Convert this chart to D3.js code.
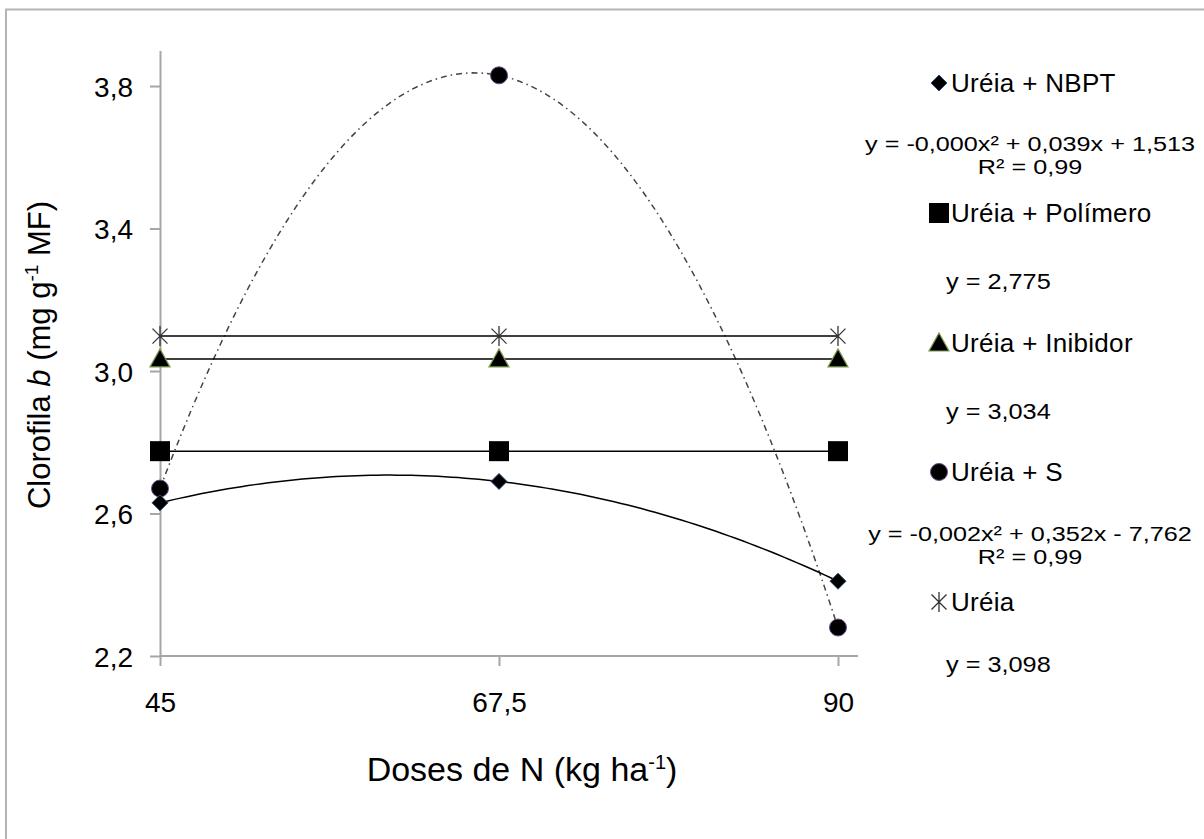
<!DOCTYPE html>
<html><head><meta charset="utf-8">
<script src="https://cdn.jsdelivr.net/npm/d3@7"></script>
<style>body{margin:0;background:#fff;} text{font-family:"Liberation Sans",Arial,sans-serif;}</style>
</head><body>
<svg id="c" width="1204" height="839"></svg>
<script>
const doses = [45, 67.5, 90];
const xTickLabels = ["45", "67,5", "90"];
const yTicks = [2.2, 2.6, 3.0, 3.4, 3.8];
const yTickLabels = ["2,2", "2,6", "3,0", "3,4", "3,8"];
const nbpt = [2.63, 2.69, 2.41];
const polimero = [2.775, 2.775, 2.775];
const inibidor = [3.034, 3.034, 3.034];
const ureiaS = [2.67, 3.83, 2.28];
const ureia = [3.098, 3.098, 3.098];

const svg = d3.select("#c");
const x = d3.scaleLinear().domain([45, 90]).range([160, 838]);
const y = d3.scaleLinear().domain([2.2, 3.9]).range([656, 50.4]);

// outer frame (left + top)
svg.append("path").attr("d", "M6,839 V9.5 H1204").attr("fill", "none").attr("stroke", "#b4b4b4").attr("stroke-width", 2);

// axes
const yAx = svg.append("g").attr("transform", "translate(160,0)")
  .call(d3.axisLeft(y).tickValues(yTicks).tickFormat((d, i) => yTickLabels[i]).tickSize(10).tickPadding(17).tickSizeOuter(0));
const xAx = svg.append("g").attr("transform", "translate(0,656)")
  .call(d3.axisBottom(x).tickValues(doses).tickFormat((d, i) => xTickLabels[i]).tickSize(10).tickPadding(26).tickSizeOuter(0));
[yAx, xAx].forEach(g => {
  g.select(".domain").attr("stroke", "#a6a6a6").attr("stroke-width", 2);
  g.selectAll(".tick line").attr("stroke", "#a6a6a6").attr("stroke-width", 2);
  g.selectAll(".tick text").attr("fill", "#000").style("font-size", "28px").style("font-family", "Liberation Sans, Arial, sans-serif");
});
xAx.select(".domain").attr("d", `M${x(45)},0H${x(90)+20}`);
yAx.selectAll(".tick text").attr("dy", "0.36em");

// quadratic trendline through the three points
function quad(xs, ys) {
  return t => {
    let s = 0;
    for (let i = 0; i < 3; i++) {
      let l = ys[i];
      for (let j = 0; j < 3; j++) if (j !== i) l *= (t - xs[j]) / (xs[i] - xs[j]);
      s += l;
    }
    return s;
  };
}
const samples = d3.range(0, 101).map(i => 45 + i * 0.45);
const line = d3.line().x(d => x(d[0])).y(d => y(d[1]));

const fS = quad(doses, ureiaS);
svg.append("path").attr("d", line(samples.map(t => [t, fS(t)])))
  .attr("fill", "none").attr("stroke", "#444").attr("stroke-width", 1.5).attr("stroke-dasharray", "6,4,1.5,4");
const fN = quad(doses, nbpt);
svg.append("path").attr("d", line(samples.map(t => [t, fN(t)])))
  .attr("fill", "none").attr("stroke", "#000").attr("stroke-width", 1.5);
[polimero, inibidor, ureia].forEach(s => {
  svg.append("path").attr("d", line(doses.map((d, i) => [d, s[i]])))
    .attr("fill", "none").attr("stroke", "#000").attr("stroke-width", 1.5);
});

// markers
function marker(g, type, cx, cy) {
  if (type === "diamond") g.append("path").attr("d", `M${cx},${cy-8}L${cx+8},${cy}L${cx},${cy+8}L${cx-8},${cy}Z`).attr("fill", "#000").attr("stroke", "#2a4a7a").attr("stroke-width", 1);
  if (type === "square") g.append("rect").attr("x", cx - 10).attr("y", cy - 10).attr("width", 20).attr("height", 20).attr("fill", "#000");
  if (type === "triangle") g.append("path").attr("d", `M${cx},${cy-10}L${cx+10},${cy+8}L${cx-10},${cy+8}Z`).attr("fill", "#000").attr("stroke", "#7a9a4a").attr("stroke-width", 1.2);
  if (type === "circle") g.append("circle").attr("cx", cx).attr("cy", cy).attr("r", 8.5).attr("fill", "#000").attr("stroke", "#6a4a8a").attr("stroke-width", 1);
  if (type === "star") {
    const r = 10;
    g.append("path").attr("d", `M${cx-r*0.75},${cy-r*0.75}L${cx+r*0.75},${cy+r*0.75}M${cx+r*0.75},${cy-r*0.75}L${cx-r*0.75},${cy+r*0.75}M${cx},${cy-r}V${cy+r}`)
      .attr("stroke", "#333").attr("stroke-width", 1.3).attr("fill", "none");
  }
}
const series = [
  {vals: ureia, m: "star"},
  {vals: inibidor, m: "triangle"},
  {vals: polimero, m: "square"},
  {vals: ureiaS, m: "circle"},
  {vals: nbpt, m: "diamond"}
];
const mg = svg.append("g");
series.forEach(s => doses.forEach((d, i) => marker(mg, s.m, x(d), y(s.vals[i]))));

// legend
const leg = svg.append("g");
const legItems = [
  {m: "diamond", label: "Uréia + NBPT", ly: 83, eq: ["y = -0,000x² + 0,039x + 1,513", "R² = 0,99"], ey: 151},
  {m: "square", label: "Uréia + Polímero", ly: 213, eq: ["y = 2,775"], ey: 289},
  {m: "triangle", label: "Uréia + Inibidor", ly: 343, eq: ["y = 3,034"], ey: 419},
  {m: "circle", label: "Uréia + S", ly: 472, eq: ["y = -0,002x² + 0,352x - 7,762", "R² = 0,99"], ey: 541},
  {m: "star", label: "Uréia", ly: 602, eq: ["y = 3,098"], ey: 672}
];
legItems.forEach(it => {
  marker(leg, it.m, 939, it.ly);
  leg.append("text").attr("x", 951).attr("y", it.ly + 9).style("font-size", "26px").style("letter-spacing", "0.3px").text(it.label);
  if (it.eq.length === 2) {
    leg.append("text").attr("transform", `translate(1030,${it.ey}) scale(1.2,1)`).attr("text-anchor", "middle").style("font-size", "21px").text(it.eq[0]);
    leg.append("text").attr("transform", `translate(1030,${it.ey + 23}) scale(1.2,1)`).attr("text-anchor", "middle").style("font-size", "21px").text(it.eq[1]);
  } else {
    leg.append("text").attr("transform", `translate(946,${it.ey}) scale(1.15,1)`).style("font-size", "22px").text(it.eq[0]);
  }
});

// axis titles
const xt = svg.append("text").attr("x", 522).attr("y", 781).attr("text-anchor", "middle").style("font-size", "34px");
xt.append("tspan").text("Doses de N (kg ha");
xt.append("tspan").attr("dy", -12).style("font-size", "20px").text("-1");
xt.append("tspan").attr("dy", 12).text(")");

const yt = svg.append("text").attr("transform", "translate(50,355) rotate(-90)").attr("text-anchor", "middle").style("font-size", "31px");
yt.append("tspan").text("Clorofila ");
yt.append("tspan").style("font-style", "italic").text("b");
yt.append("tspan").text(" (mg g");
yt.append("tspan").attr("dy", -12).style("font-size", "19px").text("-1");
yt.append("tspan").attr("dy", 12).text(" MF)");
</script>
</body></html>
